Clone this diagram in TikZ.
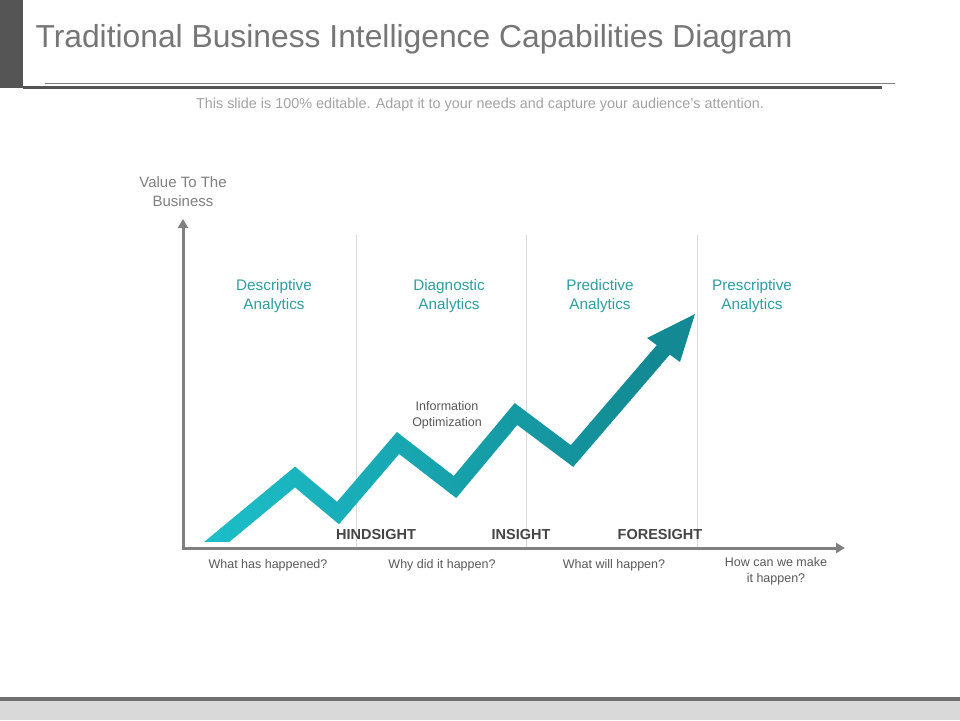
\documentclass[tikz,border=0pt]{standalone}
\usepackage{fontspec}
\setmainfont{Liberation Sans}
\usetikzlibrary{arrows.meta}
\definecolor{titlegray}{HTML}{767676}
\definecolor{subgray}{HTML}{A3A3A3}
\definecolor{axisgray}{HTML}{808080}
\definecolor{divgray}{HTML}{D9D9D9}
\definecolor{bargray}{HTML}{555555}
\definecolor{tealtext}{HTML}{2E9EA1}
\definecolor{labgray}{HTML}{595959}
\definecolor{boldgray}{HTML}{454545}
\definecolor{bandL}{HTML}{1CC0CB}
\definecolor{bandR}{HTML}{128790}
\definecolor{footgray}{HTML}{D9D9D9}
\definecolor{footline}{HTML}{707070}
\tikzset{
  txt/.style={inner sep=0pt, outer sep=0pt},
  colhead/.style={txt, align=center, text=tealtext, font=\fontsize{15.3}{19}\selectfont},
  question/.style={txt, align=center, text=labgray, font=\fontsize{12.5}{16}\selectfont},
  sightlab/.style={txt, anchor=base, text=boldgray, font=\fontsize{14.5}{17}\selectfont\bfseries},
  divider/.style={divgray, line width=1pt},
  axisline/.style={axisgray, line width=3pt},
}
\begin{document}
\begin{tikzpicture}[x=1pt,y=-1pt]
\useasboundingbox (0,0) rectangle (960,720);
\fill[white] (0,0) rectangle (960,720);

% header
\fill[bargray] (0,0) rectangle (23,88);
\draw[axisgray, line width=1pt] (45,83) -- (895,83);
\draw[bargray, line width=2.6pt] (23,87.6) -- (882,87.6);
\node[txt, anchor=base west, text=titlegray, font=\fontsize{31.8}{36}\selectfont] (title) at (35.5,47.5) {Traditional Business Intelligence Capabilities Diagram};
\node[txt, anchor=base, text=subgray, font=\fontsize{14.4}{16}\selectfont] (subtitle) at (480,108) {This slide is 100\% editable. Adapt it to your needs and capture your audience's attention.};

% footer
\fill[footgray] (0,701) rectangle (960,720);
\fill[footline] (0,697) rectangle (960,701);

% dividers
\coordinate (d1t) at (356,235); \coordinate (d1b) at (356,547);
\coordinate (d2t) at (526,235); \coordinate (d2b) at (526,547);
\coordinate (d3t) at (697,235); \coordinate (d3b) at (697,547);
\draw[divider] (d1t) -- (d1b);
\draw[divider] (d2t) -- (d2b);
\draw[divider] (d3t) -- (d3b);

% zigzag band
\coordinate (s0) at (195,560);
\coordinate (p1) at (295,477);
\coordinate (v1) at (338,513);
\coordinate (p2) at (398,443);
\coordinate (v2) at (455,487);
\coordinate (p3) at (516,414);
\coordinate (v3) at (572,456);
\coordinate (hb) at (664,349);
\coordinate (tip) at (695,314);
\coordinate (hc1) at (647,338);
\coordinate (hc2) at (680,362);
\foreach \i in {0,...,51}{
  \pgfmathsetmacro\tt{min(100,100*\i/48)}
  \colorlet{bandc}{bandR!\tt!bandL}
  \begin{scope}
    \clip (190+10*\i,300) rectangle (200.6+10*\i,541.5);
    \draw[bandc, line width=16pt, line join=miter] (s0) -- (p1) -- (v1) -- (p2) -- (v2) -- (p3) -- (v3) -- (hb);
  \end{scope}
}
\fill[bandR!95!bandL] (tip) -- (hc1) -- (hc2) -- cycle;

% axes
\coordinate (ytip) at (183,219);
\coordinate (origin) at (183,548);
\coordinate (xtip) at (845,548);
\draw[axisline, {Triangle[width=10pt,length=9pt]}-{Triangle[width=10pt,length=9pt]}, line join=miter] (ytip) -- (origin) -- (xtip);

% texts
\node[txt, align=center, text=axisgray, font=\fontsize{15}{19}\selectfont] (yl) at (183,192) {Value To The\\Business};
\node[colhead] (h1) at (274,296) {Descriptive\\Analytics};
\node[colhead] (h2) at (449,296) {Diagnostic\\Analytics};
\node[colhead] (h3) at (600,296) {Predictive\\Analytics};
\node[colhead] (h4) at (752,296) {Prescriptive\\Analytics};
\node[txt, align=center, text=boldgray!90, font=\fontsize{12.5}{16}\selectfont] (info) at (447,415) {Information\\Optimization};

\node[sightlab] (hind) at (376,539) {HINDSIGHT};
\node[sightlab] (ins) at (521,539) {INSIGHT};
\node[sightlab] (fore) at (660,539) {FORESIGHT};

\node[question, anchor=base] (q1) at (268,568) {What has happened?};
\node[question, anchor=base] (q2) at (442,568) {Why did it happen?};
\node[question, anchor=base] (q3) at (614,568) {What will happen?};
\node[question, anchor=north] (q4) at (776,557.5) {How can we make\\it happen?};
\end{tikzpicture}
\end{document}
